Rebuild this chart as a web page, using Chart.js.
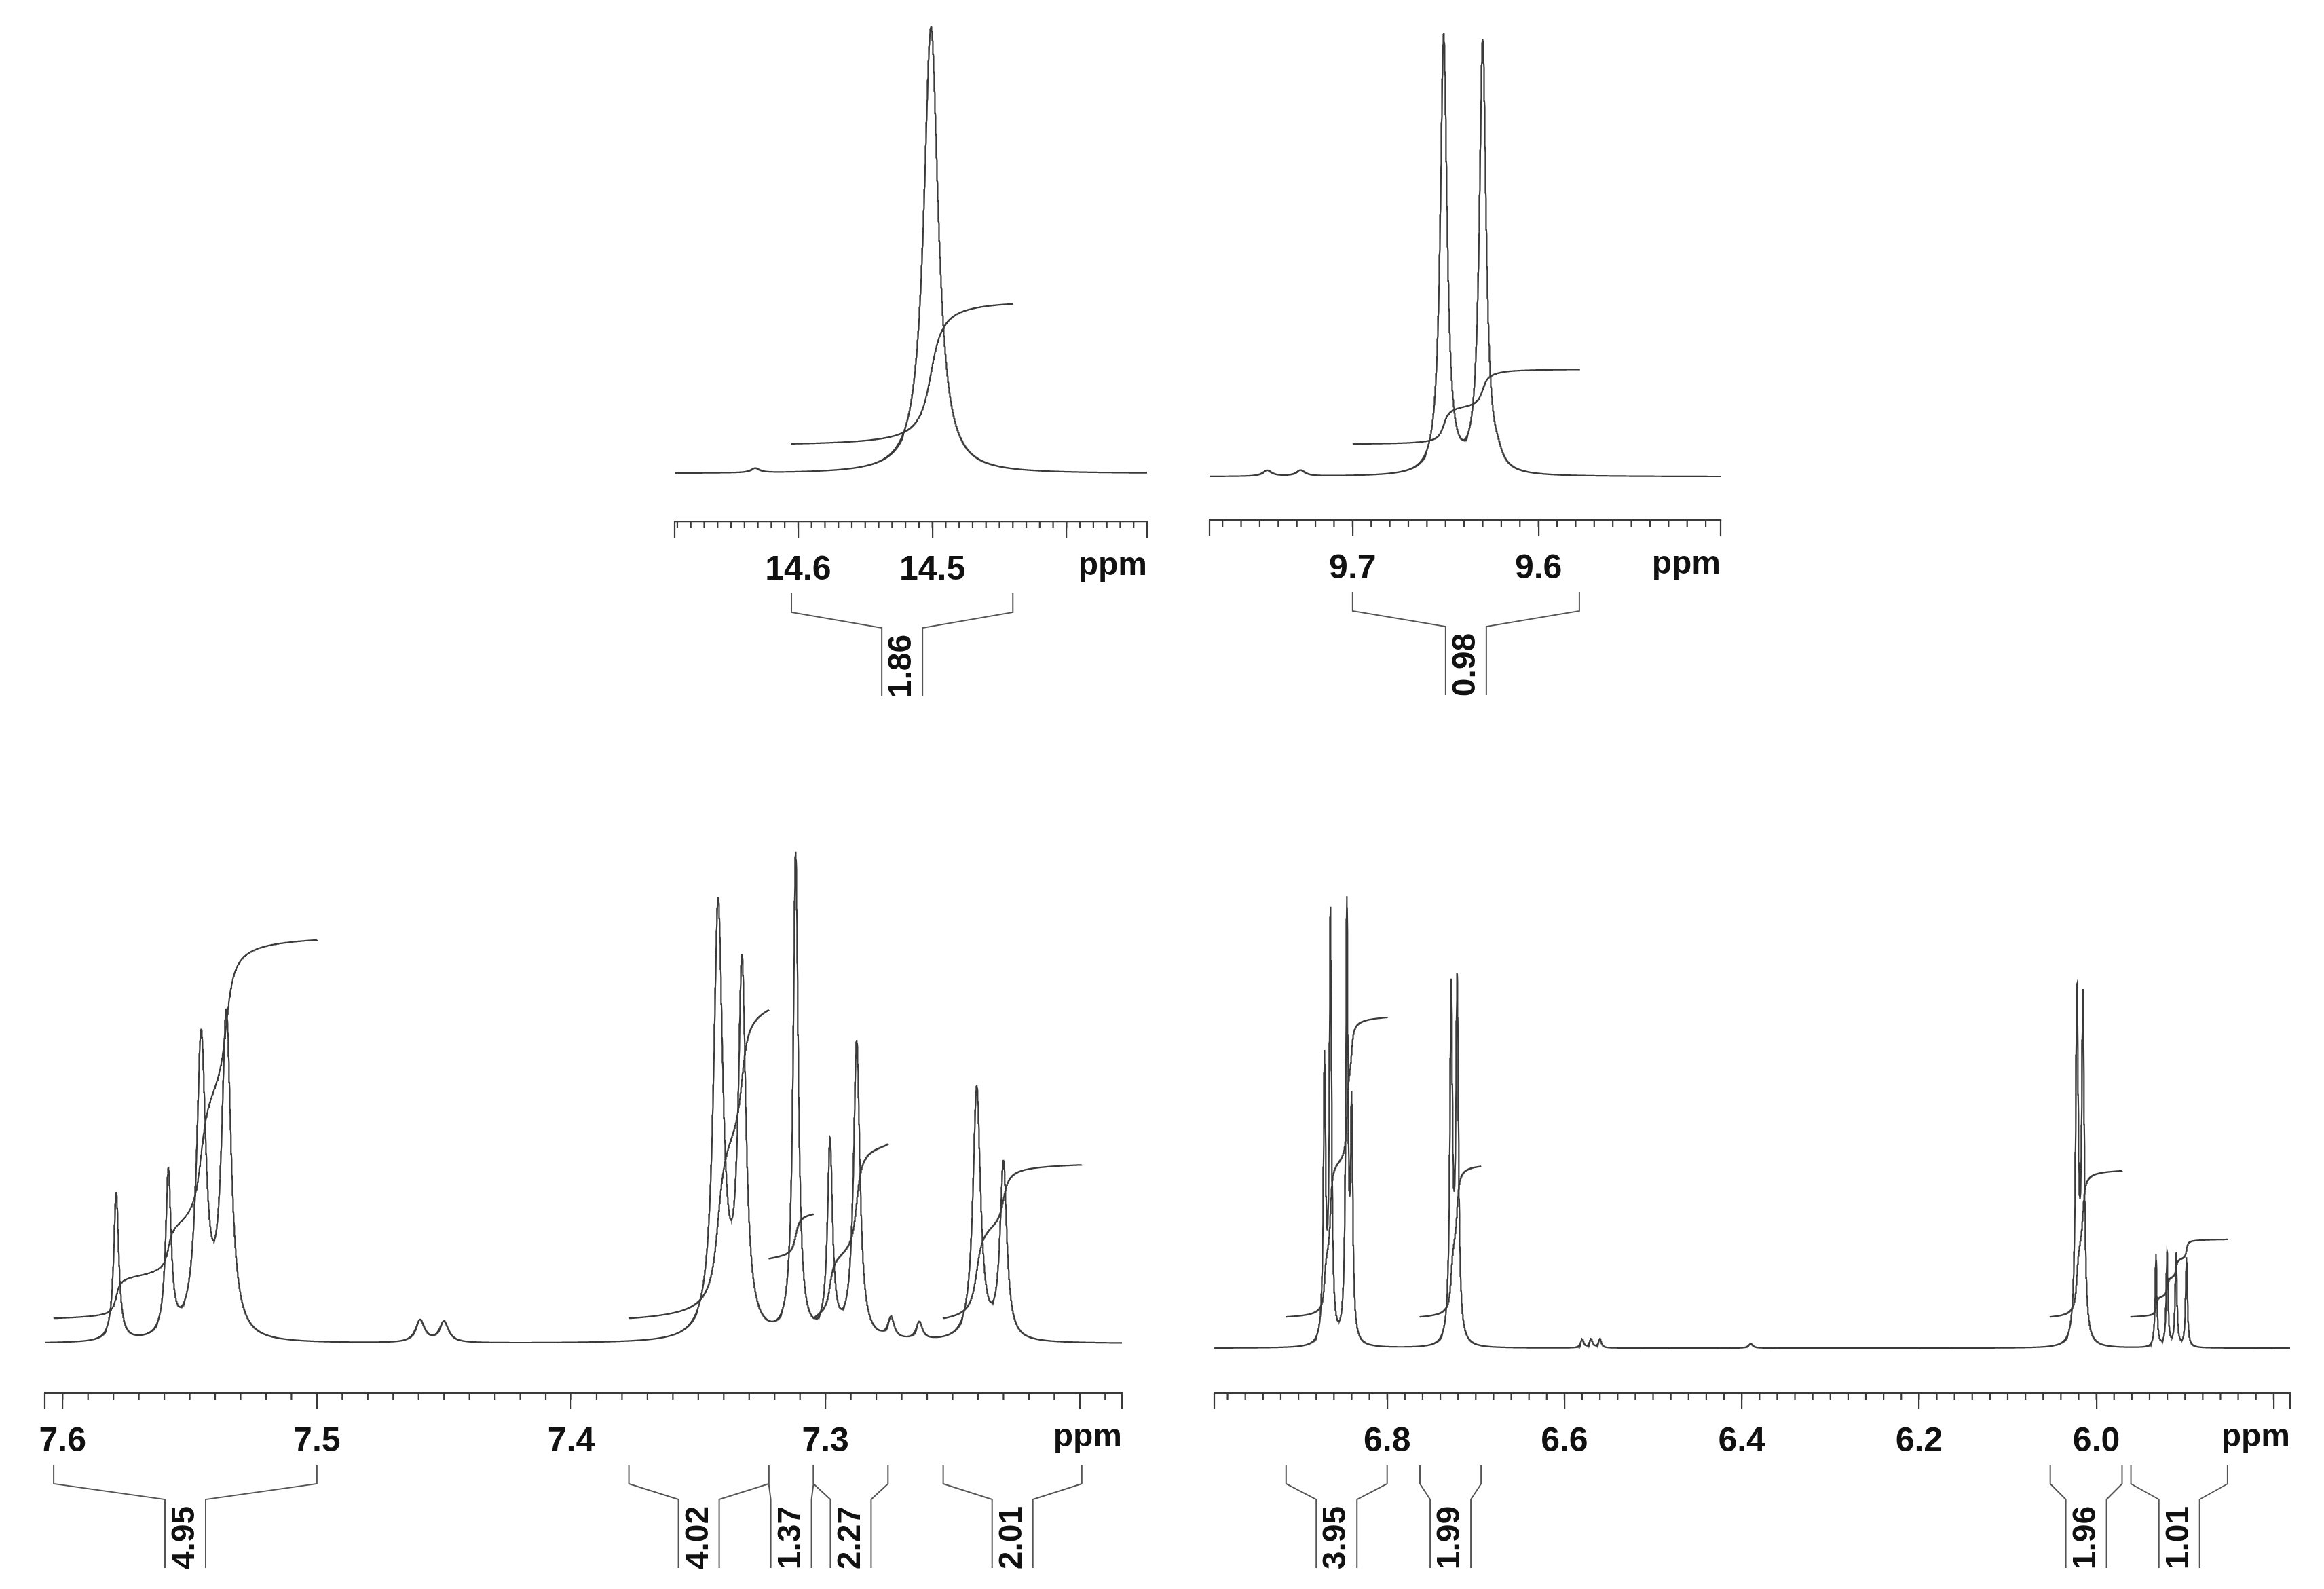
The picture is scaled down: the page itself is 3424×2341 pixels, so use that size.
<!DOCTYPE html>
<html><head><meta charset="utf-8">
<script src="https://cdn.jsdelivr.net/npm/chart.js@4.4.1/dist/chart.umd.min.js"></script>
<style>html,body{margin:0;padding:0;background:#fff;width:3424px;height:2341px;overflow:hidden}canvas{position:absolute;left:0;top:0}</style>
</head><body>
<canvas id="c0" width="3424" height="2341"></canvas>
<canvas id="c1" width="3424" height="2341"></canvas>
<canvas id="c2" width="3424" height="2341"></canvas>
<canvas id="c3" width="3424" height="2341"></canvas>
<script>
// ---------- DATA ----------
// Top-left panel (14.5 ppm)
const tlPeakPpm    = [14.501, 14.632];
const tlPeakHeight = [300, 3];
const tlPeakWidth  = [0.0065, 0.004];
const tlIntFrom  = [14.605]; const tlIntTo = [14.44];
const tlIntStart = [20];     const tlIntRise = [94];
const tlIntLabel = ['1.86'];
const tlTicks = [14.6, 14.5, 14.4]; const tlTickLabels = ['14.6', '14.5', ''];

// Top-right panel (9.6 ppm)
const trPeakPpm    = [9.651, 9.630, 9.746, 9.728, 9.622];
const trPeakHeight = [294, 290, 4, 4, 6];
const trPeakWidth  = [0.0022, 0.0022, 0.003, 0.003, 0.003];
const trIntFrom  = [9.700]; const trIntTo = [9.578];
const trIntStart = [22];    const trIntRise = [50];
const trIntLabel = ['0.98'];
const trTicks = [9.7, 9.6]; const trTickLabels = ['9.7', '9.6'];

// Bottom-left panel (7.6 - 7.2 ppm)
const blPeakPpm    = [7.5789, 7.5584, 7.5455, 7.5356, 7.4594, 7.4500, 7.3422, 7.3328, 7.3117, 7.2982, 7.2877, 7.2742, 7.2631, 7.2405, 7.2300];
const blPeakHeight = [100, 110, 200, 215, 15, 14, 290, 245, 325, 130, 200, 14, 12, 170, 118];
const blPeakWidth  = [0.0012, 0.0013, 0.0022, 0.0022, 0.0022, 0.0022, 0.0022, 0.0018, 0.0012, 0.0012, 0.0015, 0.0015, 0.0015, 0.0018, 0.0016];
const blIntFrom  = [7.6035, 7.3773, 7.3223, 7.3047, 7.2537];
const blIntTo    = [7.5000, 7.3223, 7.3047, 7.2754, 7.1992];
const blIntStart = [17, 17, 57, 17, 17];
const blIntRise  = [254, 207, 30, 117, 103];
const blIntLabel = ['4.95', '4.02', '1.37', '2.27', '2.01'];
const blTicks = [7.6, 7.5, 7.4, 7.3, 7.2]; const blTickLabels = ['7.6', '7.5', '7.4', '7.3', ''];

// Bottom-right panel (6.9 - 5.8 ppm)
const brPeakPpm    = [6.8706, 6.8639, 6.8454, 6.8400, 6.7277, 6.7210, 6.5800, 6.5700, 6.5600, 6.3900, 6.0219, 6.0151, 5.9327, 5.9202, 5.9101, 5.8983];
const brPeakHeight = [185, 285, 290, 150, 232, 236, 6, 6, 6, 3, 230, 226, 62, 63, 62, 60];
const brPeakWidth  = [0.0015, 0.0015, 0.0015, 0.0015, 0.0018, 0.0018, 0.002, 0.002, 0.002, 0.003, 0.0018, 0.0018, 0.0012, 0.0012, 0.0012, 0.0012];
const brIntFrom  = [6.914, 6.763, 6.052, 5.961];
const brIntTo    = [6.800, 6.694, 5.971, 5.852];
const brIntStart = [21, 21, 21, 21];
const brIntRise  = [201, 101, 98, 52];
const brIntLabel = ['3.95', '1.99', '1.96', '1.01'];
const brTicks = [6.8, 6.6, 6.4, 6.2, 6.0, 5.8]; const brTickLabels = ['6.8', '6.6', '6.4', '6.2', '6.0', ''];

// ---------- LAYOUT ----------
const panels = [
  {id:'c0', ppm:tlPeakPpm, h:tlPeakHeight, w:tlPeakWidth, iFrom:tlIntFrom, iTo:tlIntTo, iStart:tlIntStart, iRise:tlIntRise, iLab:tlIntLabel, ticks:tlTicks, tickLab:tlTickLabels,
   xMax:14.692, xMin:14.340, minor:0.01, L:994, R:1690, top:22, axisY:768, yMin:-32, yMax:308},
  {id:'c1', ppm:trPeakPpm, h:trPeakHeight, w:trPeakWidth, iFrom:trIntFrom, iTo:trIntTo, iStart:trIntStart, iRise:trIntRise, iLab:trIntLabel, ticks:trTicks, tickLab:trTickLabels,
   xMax:9.777, xMin:9.502, minor:0.01, L:1782, R:2535, top:22, axisY:766, yMin:-29, yMax:310},
  {id:'c2', ppm:blPeakPpm, h:blPeakHeight, w:blPeakWidth, iFrom:blIntFrom, iTo:blIntTo, iStart:blIntStart, iRise:blIntRise, iLab:blIntLabel, ticks:blTicks, tickLab:blTickLabels,
   xMax:7.607, xMin:7.1834, minor:0.01, L:66, R:1653, top:1229, axisY:2052, yMin:-33, yMax:342},
  {id:'c3', ppm:brPeakPpm, h:brPeakHeight, w:brPeakWidth, iFrom:brIntFrom, iTo:brIntTo, iStart:brIntStart, iRise:brIntRise, iLab:brIntLabel, ticks:brTicks, tickLab:brTickLabels,
   xMax:6.995, xMin:5.7815, minor:0.02, L:1789, R:3374, top:1229, axisY:2052, yMin:-30, yMax:345}
];
const W = 3424, H = 2341;
const LINE = '#3a3a3a';
const FONT = 'Liberation Sans, Arial, Helvetica, sans-serif';

function spec(p, x) {
  let s = 0;
  for (let i = 0; i < p.ppm.length; i++) { const d = (x - p.ppm[i]) / p.w[i]; s += p.h[i] / (1 + d * d); }
  return s;
}

panels.forEach(p => {
  const n = 6000, xs = [];
  for (let i = 0; i <= n; i++) xs.push(p.xMin + (p.xMax - p.xMin) * i / n);
  p.ppm.forEach(c => xs.push(c));
  xs.sort((a, b) => a - b);
  const specData = xs.map(x => ({x, y: spec(p, x)}));
  const datasets = [{data: specData, borderColor: LINE, borderWidth: 2.2, pointRadius: 0, tension: 0}];
  p.iFrom.forEach((f, k) => {
    const t = p.iTo[k], m = 600, pts = [];
    let acc = 0, prev = null; const raw = [];
    for (let i = 0; i <= m; i++) {
      const x = f - (f - t) * i / m, y = spec(p, x);
      if (prev !== null) acc += (prev + y) / 2;
      prev = y; raw.push({x, a: acc});
    }
    raw.forEach(r => pts.push({x: r.x, y: p.iStart[k] + p.iRise[k] * r.a / acc}));
    datasets.push({data: pts, borderColor: LINE, borderWidth: 2.2, pointRadius: 0, tension: 0});
  });

  const deco = {
    id: 'deco' + p.id,
    afterDraw(chart) {
      const ctx = chart.ctx, xs = chart.scales.x, ca = chart.chartArea;
      ctx.save();
      ctx.strokeStyle = LINE; ctx.lineWidth = 2.2;
      const start = Math.ceil(p.xMin / p.minor - 1e-6);
      ctx.beginPath();
      for (let k = start; k * p.minor <= p.xMax + 1e-9; k++) {
        const v = k * p.minor, px = xs.getPixelForValue(v);
        ctx.moveTo(px, ca.bottom); ctx.lineTo(px, ca.bottom + 10);
      }
      ctx.moveTo(ca.left, ca.bottom); ctx.lineTo(ca.left, ca.bottom + 24);
      ctx.moveTo(ca.right, ca.bottom); ctx.lineTo(ca.right, ca.bottom + 24);
      ctx.stroke();
      ctx.fillStyle = '#111'; ctx.font = 'bold 48px ' + FONT;
      ctx.textAlign = 'right'; ctx.textBaseline = 'middle';
      ctx.fillText('ppm', ca.right, ca.bottom + 66);
      const y1 = ca.bottom + 106, y2 = ca.bottom + 134, y3 = ca.bottom + 157, y4 = ca.bottom + 258, hw = 30;
      ctx.strokeStyle = '#555'; ctx.lineWidth = 2;
      p.iFrom.forEach((f, k) => {
        const a = xs.getPixelForValue(f), b = xs.getPixelForValue(p.iTo[k]), cx = (a + b) / 2;
        ctx.beginPath();
        ctx.moveTo(a, y1); ctx.lineTo(a, y2); ctx.lineTo(cx - hw, y3); ctx.lineTo(cx - hw, y4);
        ctx.moveTo(b, y1); ctx.lineTo(b, y2); ctx.lineTo(cx + hw, y3); ctx.lineTo(cx + hw, y4);
        ctx.stroke();
        ctx.save();
        ctx.translate(cx, (y3 + y4) / 2 + 6); ctx.rotate(-Math.PI / 2);
        ctx.fillStyle = '#111'; ctx.font = 'bold 48px ' + FONT;
        ctx.textAlign = 'center'; ctx.textBaseline = 'middle';
        ctx.fillText(p.iLab[k], 0, 0);
        ctx.restore();
      });
      ctx.restore();
    }
  };

  new Chart(document.getElementById(p.id), {
    type: 'line',
    data: {datasets},
    options: {
      responsive: false, animation: false, devicePixelRatio: 1, parsing: false, normalized: true,
      layout: {padding: {left: p.L, right: W - p.R, top: p.top, bottom: 0}},
      plugins: {legend: {display: false}, tooltip: {enabled: false}},
      scales: {
        x: {
          type: 'linear', reverse: true, min: p.xMin, max: p.xMax,
          afterBuildTicks: s => { s.ticks = p.ticks.map(v => ({value: v})); },
          afterFit: s => { s.height = H - p.axisY; s.paddingLeft = 0; s.paddingRight = 0; },
          ticks: {autoSkip: false, maxRotation: 0, padding: 18, color: '#111',
                  font: {family: FONT, size: 50, weight: 'bold'},
                  callback: (v, i) => p.tickLab[i]},
          grid: {display: true, drawOnChartArea: false, drawTicks: true, tickLength: 24, color: LINE, lineWidth: 2.2},
          border: {display: true, color: LINE, width: 2.2}
        },
        y: {display: false, min: p.yMin, max: p.yMax}
      }
    },
    plugins: [deco]
  });
});
</script>
</body></html>
